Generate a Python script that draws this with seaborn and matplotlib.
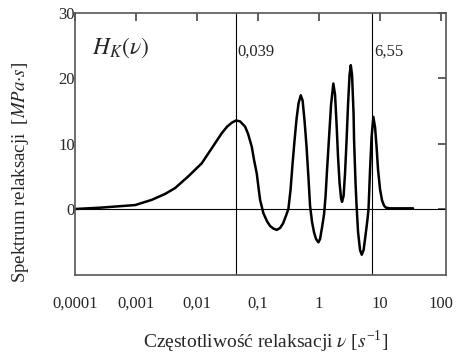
import matplotlib
matplotlib.use("Agg")
import matplotlib.pyplot as plt
import seaborn as sns
import numpy as np
import pandas as pd

# relaxation spectrum (frequency as log10 of nu)
log_nu = [-4.0, -3.59, -3.016, -2.743, -2.525, -2.361, -2.143, -1.923, -1.759,
          -1.595, -1.508, -1.431, -1.361, -1.295, -1.213, -1.164, -1.103, -1.066,
          -1.021, -0.992, -0.967, -0.913, -0.852, -0.803, -0.749, -0.693, -0.639,
          -0.590, -0.541, -0.503, -0.467, -0.434, -0.402, -0.369, -0.336, -0.300,
          -0.270, -0.238, -0.205, -0.172, -0.148, -0.115, -0.082, -0.049, -0.011,
          0.016, 0.049, 0.082, 0.107, 0.131, 0.164, 0.197, 0.234, 0.262, 0.287,
          0.311, 0.336, 0.361, 0.377, 0.402, 0.426, 0.451, 0.475, 0.500, 0.520,
          0.541, 0.566, 0.574, 0.598, 0.615, 0.639, 0.672, 0.700, 0.730, 0.762,
          0.795, 0.811, 0.836, 0.861, 0.890, 0.918, 0.943, 0.967, 1.000, 1.033,
          1.066, 1.098, 1.164, 1.541]
spectrum = [0.0, 0.2, 0.6, 1.4, 2.3, 3.2, 5.0, 7.0, 9.3,
            11.6, 12.6, 13.2, 13.55, 13.4, 12.6, 11.5, 9.5, 7.5,
            5.4, 3.2, 1.4, -0.65, -1.9, -2.6, -3.0, -3.2, -2.9,
            -2.2, -1.0, 0.0, 3.0, 7.0, 10.5, 13.8, 16.2, 17.4,
            16.6, 13.5, 9.5, 4.5, 0.5, -2.0, -3.6, -4.6, -5.1,
            -4.6, -2.8, -0.8, 2.0, 6.0, 11.0, 16.0, 19.2, 17.5, 13.0,
            8.0, 4.0, 1.6, 1.1, 2.0, 5.5, 10.5, 16.0, 20.5, 22.0,
            20.5, 14.5, 10.5, 4.0, 0.5, -3.5, -6.3, -7.0, -6.3, -4.0,
            -1.5, 0.0, 6.0, 11.0, 14.1, 12.5, 9.5, 6.0, 3.0, 1.3,
            0.5, 0.2, 0.1, 0.1]
marks = [0.043, 7.48]
mark_labels = ["0,039", "6,55"]
xticks = [1e-4, 1e-3, 1e-2, 1e-1, 1, 10, 100]
xtick_labels = ["0,0001", "0,001", "0,01", "0,1", "1", "10", "100"]
yticks = [0, 10, 20, 30]

df = pd.DataFrame({"nu": 10 ** np.array(log_nu), "H": spectrum})

sns.set_style("white")
plt.rcParams["font.family"] = ["Liberation Serif", "DejaVu Serif"]
plt.rcParams["mathtext.fontset"] = "stix"

fig, ax = plt.subplots(figsize=(4.58, 3.59), dpi=100)
fig.subplots_adjust(left=0.164, right=0.974, top=0.964, bottom=0.234)

sns.lineplot(data=df, x="nu", y="H", color="black", linewidth=1.8,
             estimator=None, sort=False, ax=ax)
ax.set_xscale("log")
ax.set_xlim(1e-4, 121)
ax.set_ylim(-10.1, 30)

ax.axhline(0, color="black", linewidth=0.8)
for m, lab in zip(marks, mark_labels):
    ax.axvline(m, color="black", linewidth=0.8)
    ax.text(m * 1.07, 24.0, lab, fontsize=12, va="center", ha="left")

ax.text(1.9e-4, 24.6, r"$H_K(\nu)$", fontsize=17, va="center", ha="left")

ax.set_xticks(xticks)
ax.set_xticklabels(xtick_labels)
ax.minorticks_off()
ax.set_yticks(yticks)
ax.tick_params(axis="both", direction="in", length=6, width=1.2, color="#444444",
               labelsize=12, top=True, right=True)
ax.tick_params(axis="x", pad=15)
ax.tick_params(axis="y", pad=0)

for s in ax.spines.values():
    s.set_color("#555555")
    s.set_linewidth(1.2)

ax.set_xlabel(r"Częstotliwość relaksacji $\nu$ [$s^{\mathregular{-1}}$]", fontsize=14)
ax.set_ylabel(r"Spektrum relaksacji  [$MPa{\cdot}s$]", fontsize=13.5)
ax.xaxis.set_label_coords(0.515, -0.205)
ax.yaxis.set_label_coords(-0.118, 0.39)

fig.savefig("out.png", dpi=100)
